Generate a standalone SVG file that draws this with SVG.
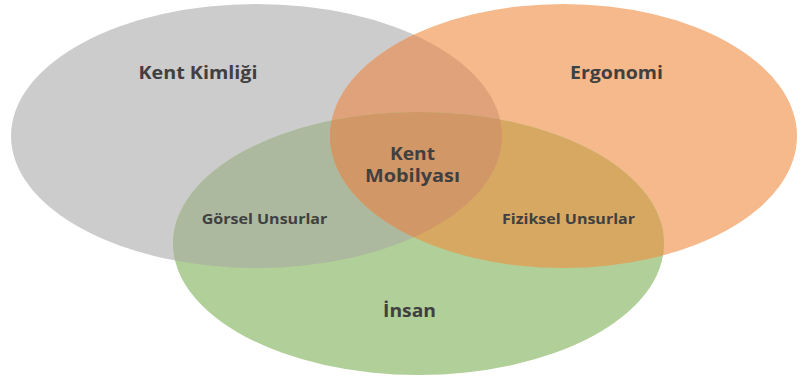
<svg xmlns="http://www.w3.org/2000/svg" width="802" height="376" viewBox="0 0 802 376">
<style>
.lbl{font-family:"Open Sans","Liberation Sans",sans-serif;font-weight:bold;fill:#404040;text-anchor:middle}
.big{font-size:17px}
.sm{font-size:14.5px}
</style>
<defs>
<clipPath id="cGray"><ellipse cx="256.5" cy="136" rx="245.5" ry="132"/></clipPath>
<clipPath id="cOrange"><ellipse cx="563.5" cy="136" rx="233.5" ry="132"/></clipPath>
</defs>
<rect width="802" height="376" fill="#ffffff"/>
<g id="kent-kimligi">
<ellipse cx="256.5" cy="136" rx="245.5" ry="132" fill="#cccccc"/>
</g>
<g id="ergonomi">
<ellipse cx="563.5" cy="136" rx="233.5" ry="132" fill="#f5b98b"/>
<ellipse cx="563.5" cy="136" rx="233.5" ry="132" fill="#dfa27a" clip-path="url(#cGray)"/>
</g>
<g id="insan">
<ellipse cx="418.5" cy="243.5" rx="245.5" ry="131.5" fill="#b1cf98"/>
<ellipse cx="418.5" cy="243.5" rx="245.5" ry="131.5" fill="#acb99e" clip-path="url(#cGray)"/>
<ellipse cx="418.5" cy="243.5" rx="245.5" ry="131.5" fill="#d7a862" clip-path="url(#cOrange)"/>
<g clip-path="url(#cGray)">
<ellipse cx="418.5" cy="243.5" rx="245.5" ry="131.5" fill="#d29766" clip-path="url(#cOrange)"/>
</g>
</g>
<g id="labels">
<text class="lbl big" x="198" y="79" textLength="119" lengthAdjust="spacingAndGlyphs">Kent Kimliği</text>
<text class="lbl big" x="616.5" y="78.5" textLength="93" lengthAdjust="spacingAndGlyphs">Ergonomi</text>
<text class="lbl big" x="412.5" y="160" textLength="45" lengthAdjust="spacingAndGlyphs">Kent</text>
<text class="lbl big" x="412.5" y="181.5" textLength="95" lengthAdjust="spacingAndGlyphs">Mobilyası</text>
<text class="lbl sm" x="264.5" y="223.5" textLength="125.5" lengthAdjust="spacingAndGlyphs">Görsel Unsurlar</text>
<text class="lbl sm" x="568.5" y="223.5" textLength="133" lengthAdjust="spacingAndGlyphs">Fiziksel Unsurlar</text>
<text class="lbl big" x="409.5" y="317" textLength="53" lengthAdjust="spacingAndGlyphs">İnsan</text>
</g>
</svg>
